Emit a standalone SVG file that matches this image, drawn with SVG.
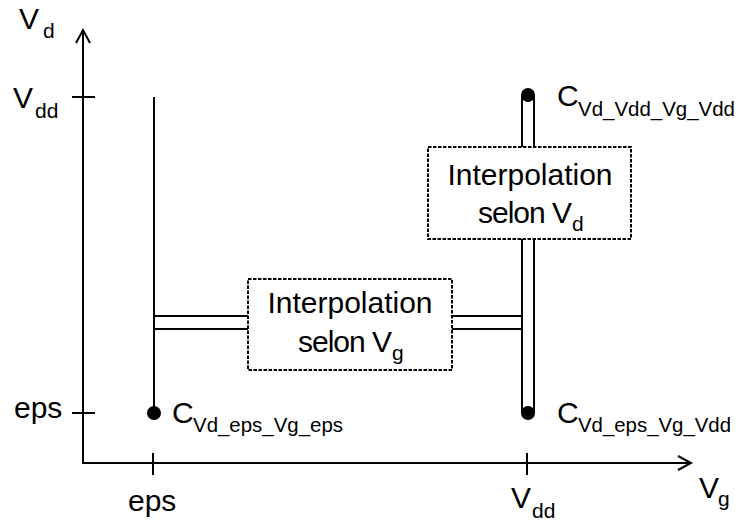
<svg xmlns="http://www.w3.org/2000/svg" width="739" height="526" viewBox="0 0 739 526">
<defs>
<style>
.ln{stroke:#000;stroke-width:2;fill:none}
.box{fill:#fff;stroke:#000;stroke-width:2;stroke-dasharray:3.5 1.5}
.t{font-family:"Liberation Sans",Arial,sans-serif;font-size:30px;fill:#000}
.s{font-family:"Liberation Sans",Arial,sans-serif;font-size:21px;fill:#000}
.c{text-anchor:middle}
</style>
</defs>
<rect width="739" height="526" fill="#fff"/>
<g id="axes">
<line class="ln" x1="83" y1="464" x2="83" y2="30"/>
<polyline class="ln" points="76,43 83,30 90,43"/>
<line class="ln" x1="82" y1="463" x2="690" y2="463"/>
<polyline class="ln" points="678,456 691,463 678,470"/>
<line class="ln" x1="72" y1="97" x2="95" y2="97"/>
<line class="ln" x1="72" y1="413" x2="95" y2="413"/>
<line class="ln" x1="153" y1="453" x2="153" y2="475"/>
<line class="ln" x1="527" y1="453" x2="527" y2="475"/>
<text class="t" x="19" y="29">V</text><text class="s" x="43" y="38">d</text>
<text class="t" x="13" y="108">V</text><text class="s" x="35" y="118">dd</text>
<text class="t" x="14" y="418">eps</text>
<text class="t" x="128" y="511">eps</text>
<text class="t" x="511" y="508">V</text><text class="s" x="532" y="518">dd</text>
<text class="t" x="699" y="498">V</text><text class="s" x="718" y="506">g</text>
</g>
<g id="connectors">
<line class="ln" x1="154" y1="97" x2="154" y2="413"/>
<line class="ln" x1="522" y1="95" x2="522" y2="413"/>
<line class="ln" x1="534" y1="95" x2="534" y2="413"/>
<line class="ln" x1="154" y1="316" x2="521" y2="316"/>
<line class="ln" x1="154" y1="329" x2="521" y2="329"/>
</g>
<g id="pt-eps-eps">
<circle cx="154" cy="413" r="7"/>
<text class="t" x="172" y="423">C</text><text class="s" x="193" y="432" textLength="150" lengthAdjust="spacingAndGlyphs">Vd_eps_Vg_eps</text>
</g>
<g id="pt-eps-vdd">
<circle cx="528" cy="413" r="7"/>
<text class="t" x="557" y="423">C</text><text class="s" x="578" y="432" textLength="153" lengthAdjust="spacingAndGlyphs">Vd_eps_Vg_Vdd</text>
</g>
<g id="pt-vdd-vdd">
<circle cx="528" cy="95" r="7"/>
<text class="t" x="557" y="106">C</text><text class="s" x="578" y="116" textLength="157" lengthAdjust="spacingAndGlyphs">Vd_Vdd_Vg_Vdd</text>
</g>
<g id="box-vg">
<rect class="box" x="248" y="279" width="204" height="91"/>
<text class="t c" x="350" y="313">Interpolation</text>
<text class="t" x="298" y="352" textLength="94">selon V</text><text class="s" x="392" y="360">g</text>
</g>
<g id="box-vd">
<rect class="box" x="428" y="147" width="203" height="92"/>
<text class="t c" x="530" y="185">Interpolation</text>
<text class="t" x="478" y="223" textLength="94">selon V</text><text class="s" x="572" y="231">d</text>
</g>
</svg>
